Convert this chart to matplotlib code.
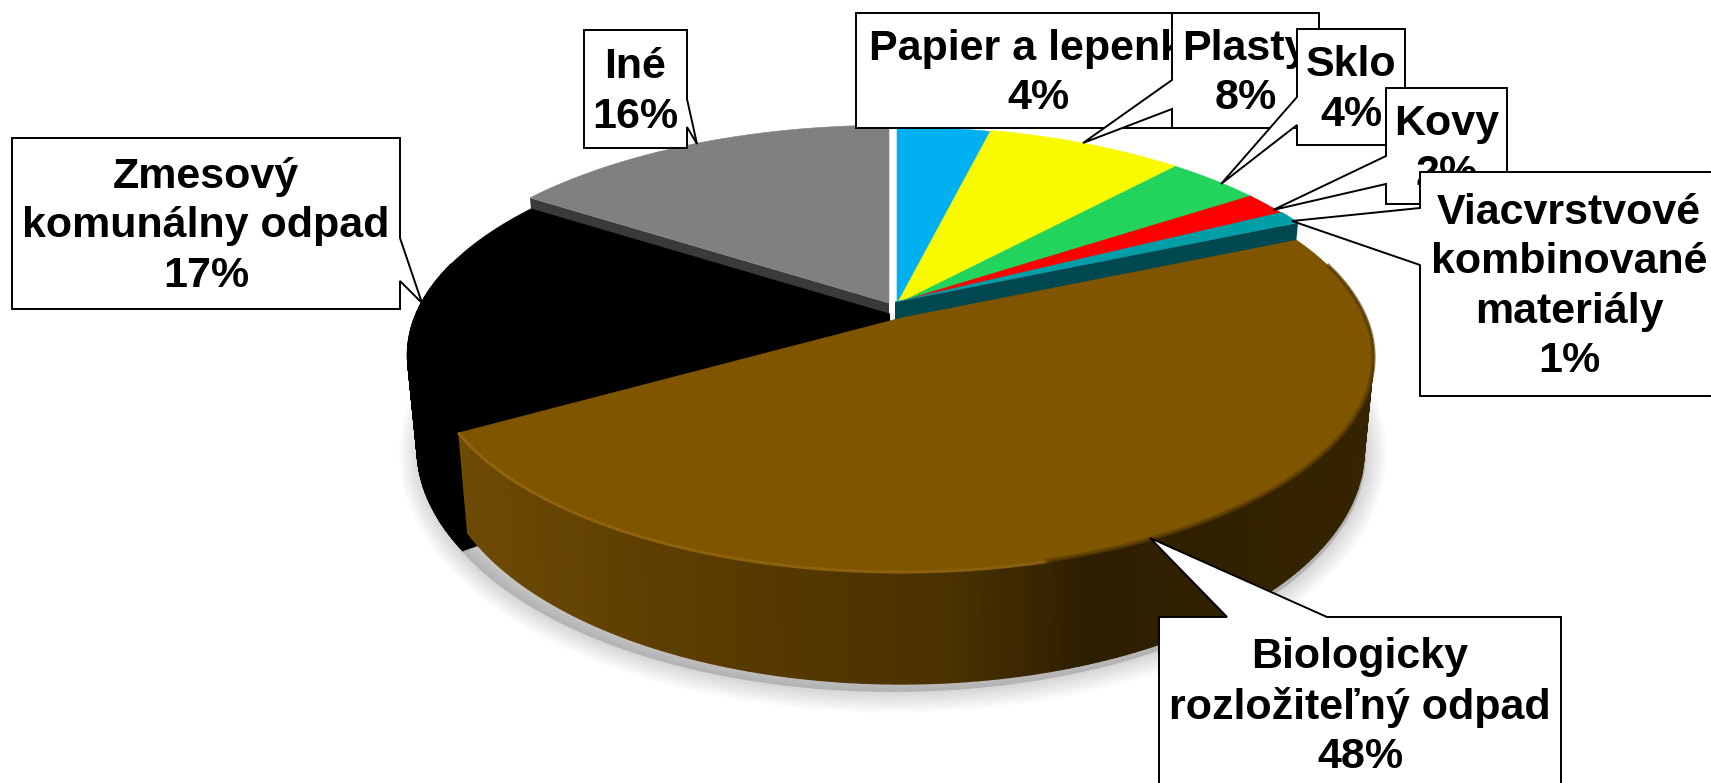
import numpy as np
import matplotlib
matplotlib.use("Agg")
from matplotlib import pyplot as plt
from matplotlib.colors import to_rgb

plt.rcParams['font.family'] = ['Liberation Sans', 'DejaVu Sans']

# data
names = ["Papier a lepenka", "Plasty", "Sklo", "Kovy", "Viacvrstvové\nkombinované\nmateriály",
         "Biologicky\nrozložiteľný odpad", "Zmesový\nkomunálny odpad", "Iné"]
values = [3.7, 7.8, 3.8, 1.8, 1.0, 47.5, 17.4, 15.5]

# styles, same order as the data
colors = ["#00b0f0", "#f9f900", "#22d45c", "#ff0000", "#009fa8", "#7f5500", "#000000", "#808080"]
wall_colors = ["#1a8cc0", "#b5a500", "#16a048", "#b00000", "#004850", "#3a2700", "#000000", "#3a3a3a"]
offsets = [(8, -5), (8, -6), (8, -6), (6, -7), (6, -8), (12, 8), (1, 4), (0, -7)]
radius = [1, 1, 1, 1, 1, 0.98, 1, 1]

# label boxes: left, right, top, bottom, then pointer tip and the two pointer base points
boxes = [
    (856, 1220, 13, 128, None, None, None),
    (1172, 1319, 13, 128, (1083, 143), (1172, 80), (1172, 109)),
    (1297, 1405, 29, 145, (1221, 184), (1297, 97), (1297, 125)),
    (1386, 1507, 88, 204, (1273, 210), (1386, 156), (1386, 184)),
    (1420, 1718, 172, 396, (1292, 221), (1420, 208), (1420, 265)),
    (1159, 1561, 617, 791, (1150, 538), (1227, 617), (1327, 617)),
    (12, 400, 138, 309, (422, 303), (400, 238), (400, 281)),
    (584, 687, 30, 148, (697, 144), (687, 99), (687, 127)),
]

cx, cy = 889, 310
A, B, p = 474, 211, 0.187
drop = 90


def top_pt(t, r=1.0, off=(0, 0)):
    x = r * np.sin(t)
    y = r * np.cos(t)
    w = 1 + p * y
    return cx + off[0] + A * x / w, cy + off[1] - B * y / w


def bot_pt(t, r=1.0, off=(0, 0)):
    x = r * np.sin(t)
    y = r * np.cos(t)
    w = 1 + p * y
    return cx + off[0] + 0.98 * A * x / w, cy + off[1] + drop - 1.09 * B * y / w


fig = plt.figure(figsize=(17.11, 7.83), dpi=100)
ax = fig.add_axes([0, 0, 1, 1])
ax.set_xlim(0, 1711)
ax.set_ylim(783, 0)
ax.axis('off')

edges = np.radians(np.cumsum([0] + values) / sum(values) * 360)

# soft shadow under the pie
st = np.linspace(np.radians(75), np.radians(296), 200)
sx, sy = bot_pt(st, 1.0, (4, 9))
for lw in range(30, 0, -3):
    ax.fill(sx, sy, color='k', alpha=0.016, lw=lw, joinstyle='round', zorder=1)

# brown rim gets a gradient along x
grad_x = [450, 700, 950, 1090, 1380]
grad_c = [to_rgb(c) for c in ["#6e4b06", "#5a3c00", "#4a3100", "#2e1e00", "#362400"]]


def rim_color(i, x):
    if i != 5:
        return colors[i]
    return tuple(np.interp(x, grad_x, [c[k] for c in grad_c]) for k in range(3))


order = [7, 0, 1, 2, 3, 4, 6, 5]
z = 2
for i in order:
    t0, t1 = edges[i], edges[i + 1]
    off = offsets[i]
    r = radius[i]
    if i == 6:
        # black runs on a little behind the front of the brown slice
        t0 = t0 - 0.08
    # outer side, only the part facing the viewer
    if i in (5, 6):
        ts = np.linspace(t0, t1, 160)
        for a, b in zip(ts[:-1], ts[1:]):
            if np.cos(a) > 0.25 and np.cos(b) > 0.25:
                continue
            xa, ya = top_pt(a, r, off)
            xb, yb = top_pt(b, r, off)
            xc, yc = bot_pt(b, r, off)
            xd, yd = bot_pt(a, r, off)
            c = rim_color(i, (xa + xb) / 2)
            ax.fill([xa, xb, xc, xd], [ya, yb, yc, yd], color=c, lw=1, zorder=z)
        z += 1
    # cut wall of the slice
    t_wall = t0 if i in (6, 7) else t1
    if i != 5:
        x0, y0 = top_pt(t_wall, 0, off)
        x1, y1 = top_pt(t_wall, r, off)
        x2, y2 = bot_pt(t_wall, r, off)
        x3, y3 = bot_pt(t_wall, 0, off)
        ax.fill([x0, x1, x2, x3], [y0, y1, y2, y3], color=wall_colors[i], lw=0, zorder=z)
        z += 1
    # top face
    ts = np.linspace(t0, t1, 200)
    xs, ys = top_pt(ts, r, off)
    ox, oy = top_pt(0.0, 0, off)
    ax.fill(np.r_[ox, xs], np.r_[oy, ys], color=colors[i], lw=0.4, zorder=z)
    z += 1
    if i == 5:
        # light edge along the front of the brown top
        ts = np.linspace(np.radians(165), t1, 80)
        xs, ys = top_pt(ts, r, off)
        ax.plot(xs, ys + 1, color="#9a6c12", lw=2, alpha=0.8, zorder=z)
        ts = np.linspace(t0 + 0.15, np.radians(165), 80)
        xs, ys = top_pt(ts, r, off)
        ax.plot(xs, ys, color="#5a3c00", lw=3, alpha=0.7, zorder=z)
        z += 1

# callout boxes, later ones sit on earlier ones
z = 50
draw_order = [7, 6, 0, 1, 2, 3, 4, 5]
for i in draw_order:
    l, r, t, b, tip, p1, p2 = boxes[i]
    px = [l, r, r, l]
    py = [t, t, b, b]
    if tip is not None:
        if p1[0] == l:
            px = [l, r, r, l, p2[0], tip[0], p1[0]]
            py = [t, t, b, b, p2[1], tip[1], p1[1]]
        elif p1[0] == r:
            px = [l, r, p1[0], tip[0], p2[0], r, l]
            py = [t, t, p1[1], tip[1], p2[1], b, b]
        else:
            px = [l, p1[0], tip[0], p2[0], r, r, l]
            py = [t, p1[1], tip[1], p2[1], t, b, b]
    ax.fill(px, py, facecolor='white', edgecolor='black', lw=1.4, joinstyle='miter', zorder=z)
    ax.text((l + r) / 2, (t + b) / 2 + 3, names[i] + "\n" + f"{round(values[i])}%",
            ha='center', va='center', fontsize=31, fontweight='bold', color='black',
            linespacing=1.3, zorder=z + 1, clip_on=True)
    z += 2

fig.savefig("out.png", dpi=100)
